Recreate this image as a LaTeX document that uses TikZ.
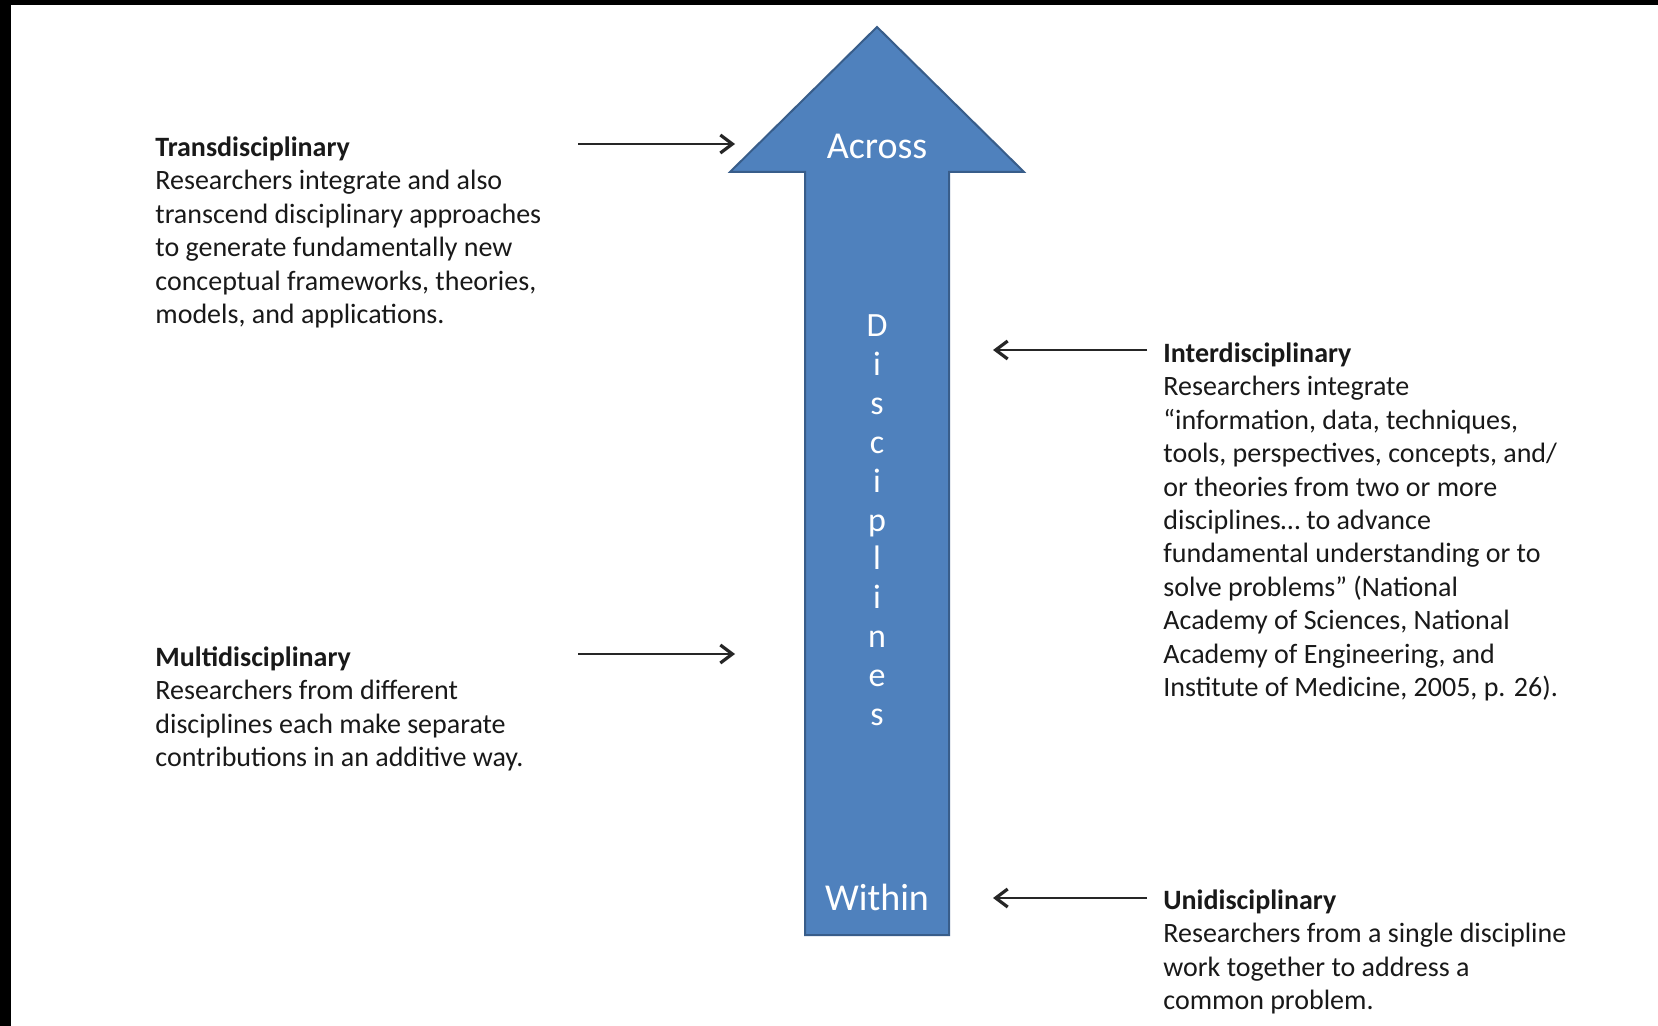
\documentclass[tikz,border=0pt]{standalone}
\usepackage{fontspec}
\setmainfont{Carlito}
\usetikzlibrary{arrows.meta}
\definecolor{arrowblue}{HTML}{4F81BD}
\definecolor{arrowedge}{HTML}{385D8A}
\tikzset{
  blurb/.style={anchor=north west, inner sep=0pt, align=left, text=black!90,
    font=\fontsize{14}{16.7}\selectfont},
  pointer/.style={draw=black!85, line width=1.1pt,
    -{Straight Barb[length=6pt,width=9pt,line width=1.6pt]}},
  bigword/.style={text=white, anchor=base, font=\fontsize{19}{22}\selectfont},
  letter/.style={text=white, anchor=base, font=\fontsize{17}{19}\selectfont}
}

\begin{document}
\begin{tikzpicture}[x=0.5pt,y=-0.5pt]
% Page with its black edges
\useasboundingbox (0,0) rectangle (1658,1026);
\fill[white] (0,0) rectangle (1658,1026);
\fill[black] (0,0) rectangle (1658,5);
\fill[black] (0,0) rectangle (11,1026);
% Centre line of the big arrow
\pgfmathsetmacro{\arrowmid}{877}
% Draw the big arrow
\draw[fill=arrowblue, draw=arrowedge, line width=1pt]
  (\arrowmid-72,935) -- (\arrowmid-72,172) -- (\arrowmid-147,172)
  -- (\arrowmid,27) -- (\arrowmid+147,172) -- (\arrowmid+72,172)
  -- (\arrowmid+72,935) -- cycle;
% Words inside the arrow
\node[bigword] (across) at (\arrowmid,159) {Across};
\node[bigword] (within) at (\arrowmid,910) {Within};
\foreach \ch [count=\i] in {D,i,s,c,i,p,l,i,n,e,s}
  \node[letter] (disc\i) at (\arrowmid,{336.5+38.9*(\i-1)}) {\ch};
% Left descriptions
\node[blurb] (trans) at (155,136.5) {\textbf{Transdisciplinary}\\
  Researchers integrate and also\\
  transcend disciplinary approaches\\
  to generate fundamentally new\\
  conceptual frameworks, theories,\\
  models, and applications.};
\node[blurb] (multi) at (155,646.5) {\textbf{Multidisciplinary}\\
  Researchers from different\\
  disciplines each make separate\\
  contributions in an additive way.};
% Right descriptions
\node[blurb] (inter) at (1163,342.5) {\textbf{Interdisciplinary}\\
  Researchers integrate\\
  “information, data, techniques,\\
  tools, perspectives, concepts, and/\\
  or theories from two or more\\
  disciplines… to advance\\
  fundamental understanding or to\\
  solve problems” (National\\
  Academy of Sciences, National\\
  Academy of Engineering, and\\
  Institute of Medicine, 2005, p. 26).};
\node[blurb] (uni) at (1163,889.5) {\textbf{Unidisciplinary}\\
  Researchers from a single discipline\\
  work together to address a\\
  common problem.};
% Pointers to the arrow
\coordinate (transTail) at (578,144);
\coordinate (transHead) at (735,144);
\coordinate (multiTail) at (578,654);
\coordinate (multiHead) at (735,654);
\coordinate (interTail) at (1147,350);
\coordinate (interHead) at (993,350);
\coordinate (uniTail) at (1147,898);
\coordinate (uniHead) at (993,898);
\draw[pointer] (transTail) -- (transHead);
\draw[pointer] (multiTail) -- (multiHead);
\draw[pointer] (interTail) -- (interHead);
\draw[pointer] (uniTail) -- (uniHead);
\end{tikzpicture}
\end{document}
